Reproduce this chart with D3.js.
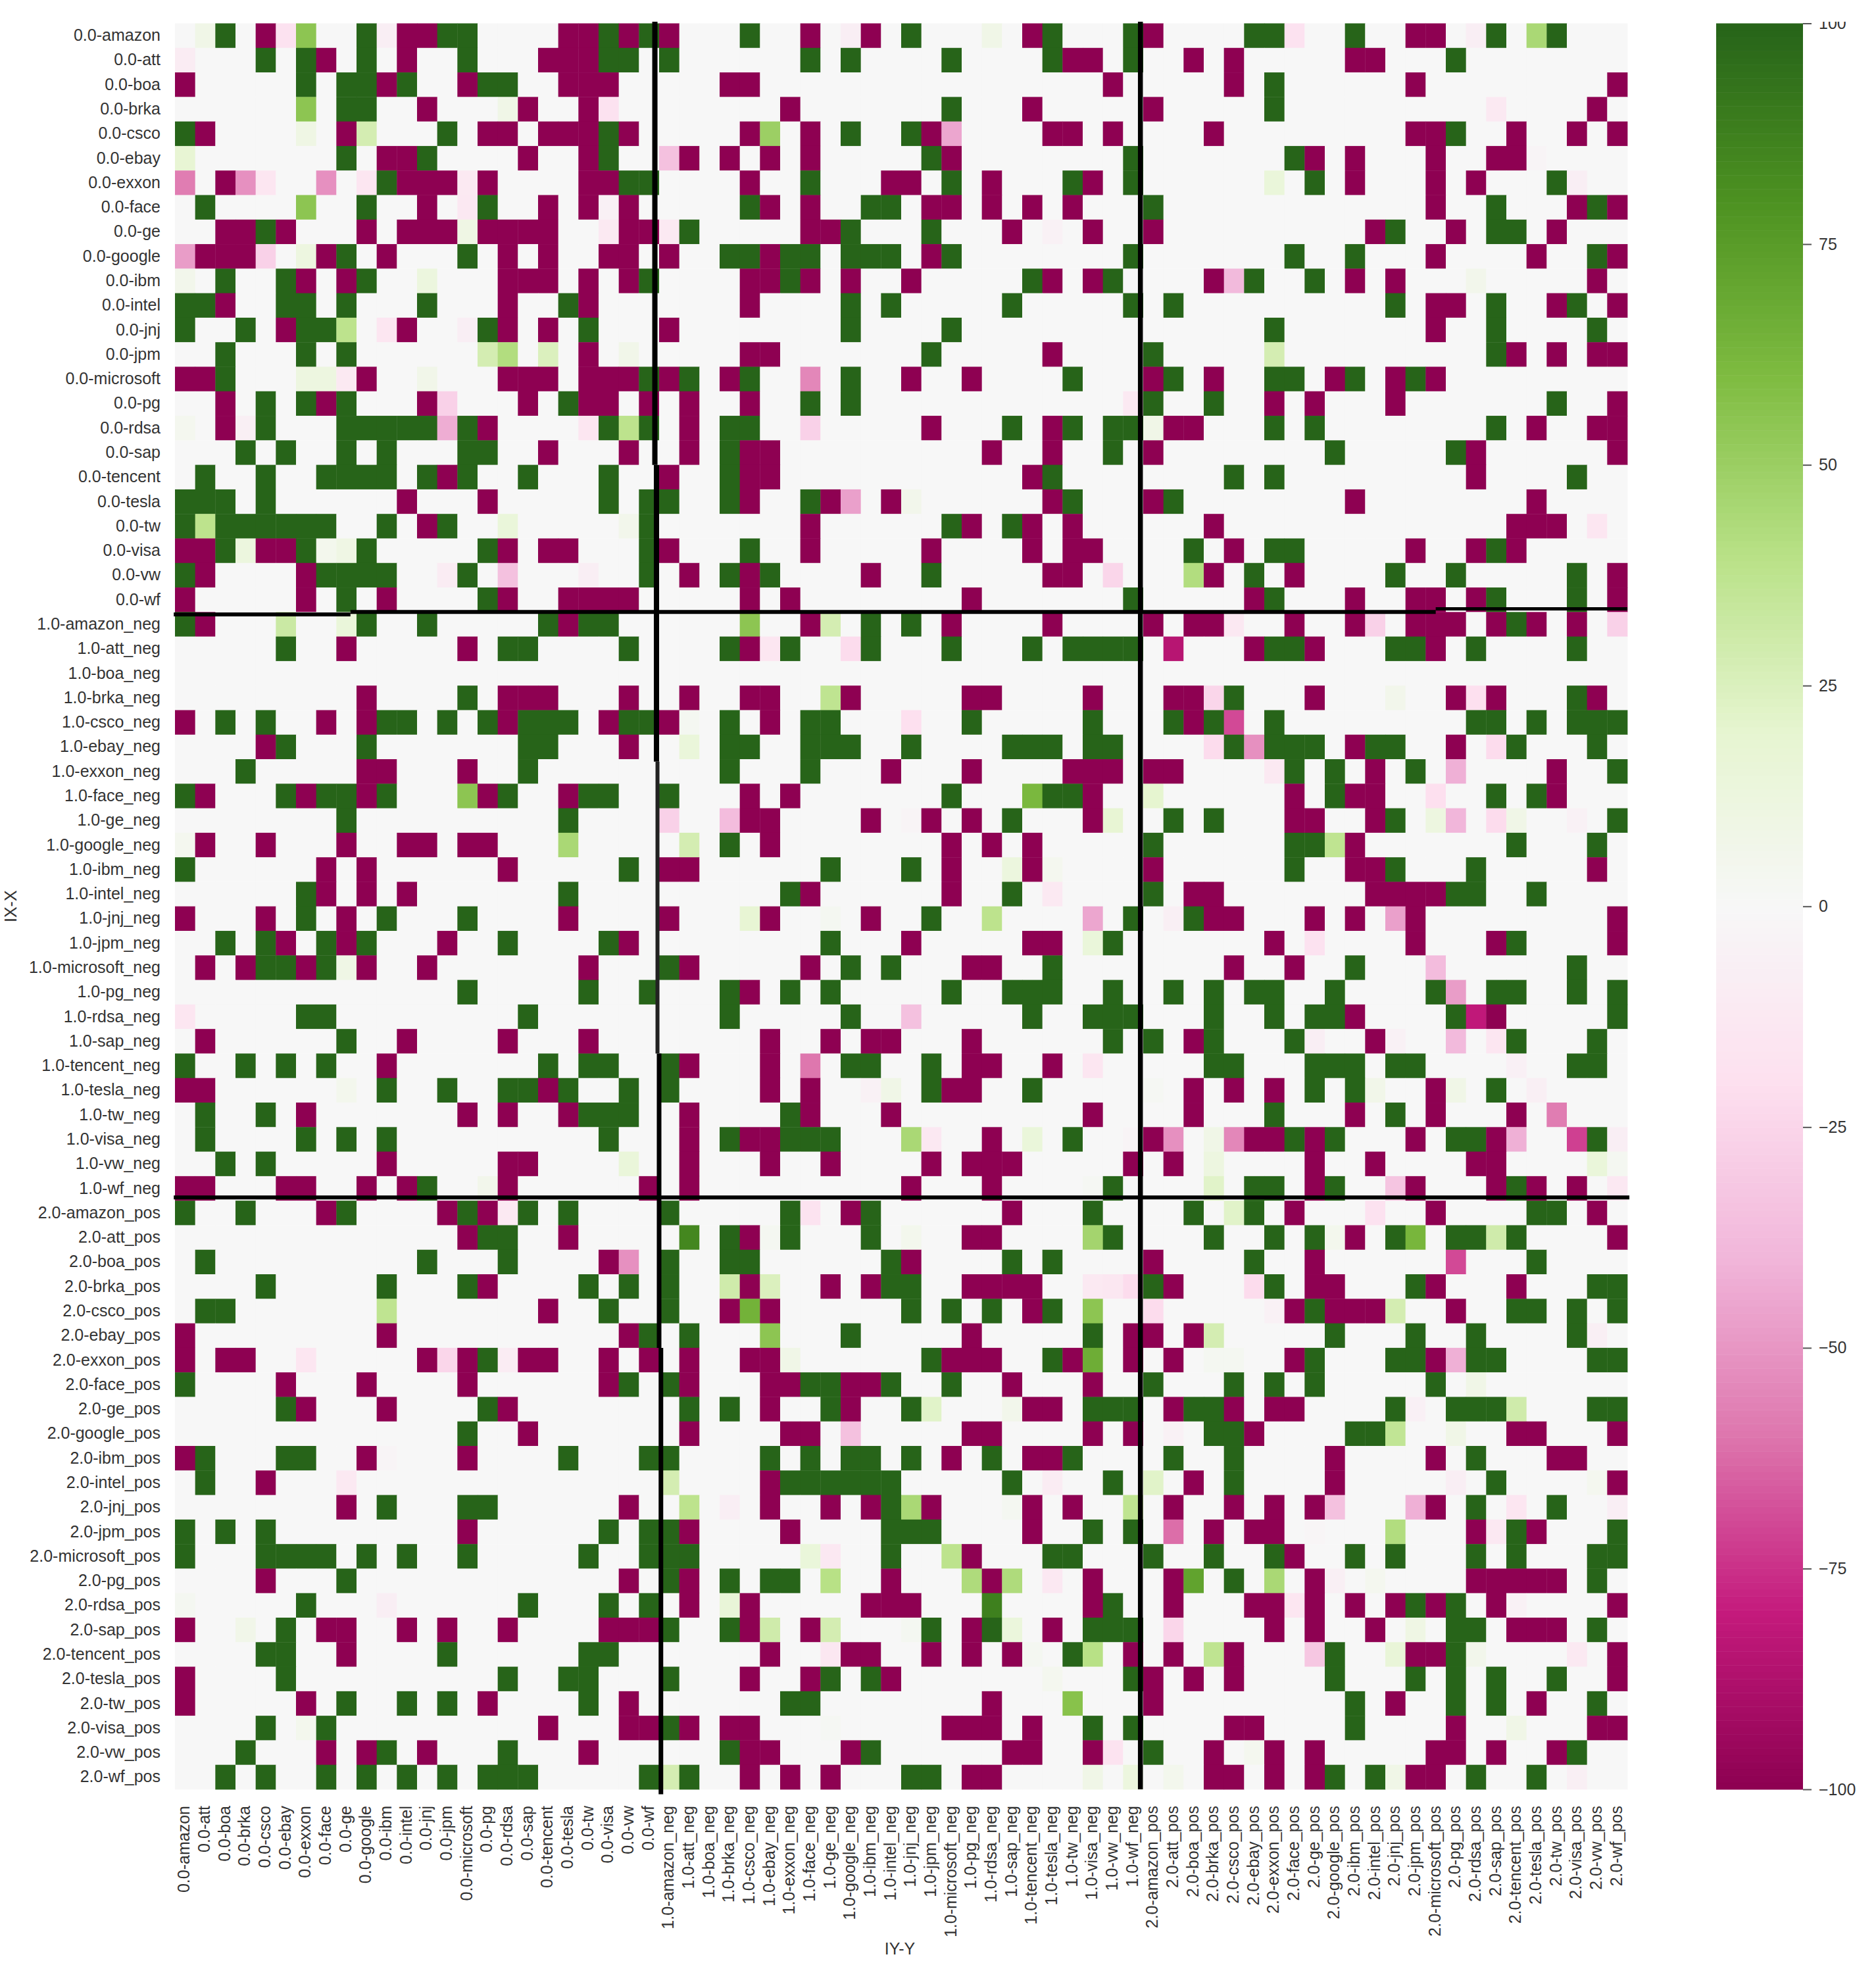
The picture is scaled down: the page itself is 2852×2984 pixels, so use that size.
<!DOCTYPE html>
<html>
<head>
<meta charset="utf-8">
<script src="https://cdn.jsdelivr.net/npm/d3@7"></script>
<style>
html,body{margin:0;padding:0;background:#fff;}
svg{display:block;}
text{font-family:"Liberation Sans",Arial,sans-serif;fill:#333;}
</style>
</head>
<body>
<svg id="chart" width="2852" height="2984"></svg>
<script>
const tickers = ["amazon","att","boa","brka","csco","ebay","exxon","face","ge","google","ibm","intel","jnj","jpm","microsoft","pg","rdsa","sap","tencent","tesla","tw","visa","vw","wf"];
const labels = [
  ...tickers.map(t => `0.0-${t}`),
  ...tickers.map(t => `1.0-${t}_neg`),
  ...tickers.map(t => `2.0-${t}_pos`)
];
const colorbarTicks = [-100,-75,-50,-25,0,25,50,75,100];

// columns holding +100, one list per row
const fullPositive = [
[2,9,13,14,21,23,28,36,43,47,53,54,58,65,68],
[4,6,9,14,21,22,24,31,33,38,43,47,63],
[6,8,9,11,15,16,54],
[8,9,38,54],
[0,13,21,33,36,63],
[8,12,21,37,47,55],
[10,22,23,31,38,44,47,56,68],
[1,9,15,28,34,35,48,65,70],
[4,25,33,37,60,65,66],
[8,14,27,28,30,31,33,34,35,38,47,55,58,70],
[2,5,9,23,30,42,46,53,56],
[0,1,5,6,8,12,19,33,35,41,47,49,60,65,69],
[0,3,6,7,15,20,33,38,54,65,70],
[2,6,8,37,48,65],
[2,23,25,28,33,44,49,54,55,58,61],
[4,6,8,19,31,33,48,51,68],
[4,8,9,10,11,12,14,21,23,27,28,41,44,46,47,54,56,65],
[3,5,8,10,14,15,27,46,57,63],
[1,4,7,8,9,10,12,14,17,21,27,43,52,54,69],
[0,1,2,4,21,23,24,27,31,44,49],
[0,2,3,4,5,6,7,10,13,23,38,41],
[2,6,9,15,23,28,50,54,55,65],
[0,7,8,9,10,14,23,27,29,37,53,60,63,69],
[8,15,47,54,65,69],
[0,9,12,18,20,21,34,36,66],
[5,16,17,22,27,30,34,38,42,44,45,46,47,54,55,60,61,64,69],
[],
[14,52,69],
[2,4,10,11,13,15,17,18,19,22,23,27,31,32,39,45,49,51,54,64,65,67,69,70,71],
[5,9,17,18,27,28,31,32,33,36,41,42,43,45,46,52,54,55,56,59,60,66,70],
[3,17,27,31,55,57,61,71],
[0,5,7,8,10,16,20,21,24,38,43,44,57,65,67],
[8,19,41,49,51,60,71],
[27,48,55,56,66,70],
[0,22,32,36,55,60,64],
[6,19,30,41,48,63,64,67],
[6,10,14,37,47,50],
[2,4,7,9,16,21,32,46,66],
[4,5,7,24,33,35,43,58,69],
[14,20,23,27,30,32,38,41,42,43,46,49,51,53,54,57,62,65,66,69,71],
[6,7,17,27,33,42,45,46,47,51,54,56,57,63,71],
[8,46,48,51,55,66,70],
[0,3,5,7,18,20,21,24,33,34,37,51,52,56,57,58,60,61,69,70],
[10,13,16,17,19,22,24,37,42,56,58,65],
[1,4,20,21,22,30,54,60],
[1,6,8,10,21,27,30,31,32,44,55,57,63,64,70],
[2,4],
[12,46,53,54,57,66],
[0,3,8,14,17,19,24,30,34,45,50,53,67,68],
[15,16,27,30,34,46,51,54,56,60,63,64,66],
[1,12,16,24,27,28,35,41,43,53,67],
[4,10,14,20,22,24,35,36,48,54,61,70,71],
[1,2,21,24,36,38,40,43,56,66,67,69,71],
[23,25,33,45,57,61,64,69],
[15,37,43,56,60,61,64,65,70,71],
[0,22,24,31,32,35,38,48,52,54,56,62],
[5,15,25,27,32,36,45,46,47,50,51,60,63,64,65,70,71],
[14,51,52,58,59],
[1,5,6,19,23,24,29,31,33,34,36,40,44,49,52,64],
[1,30,31,32,33,34,35,41,46,52,65],
[10,14,15,35,64,68],
[0,2,4,21,23,24,35,36,37,45,47,66,71],
[0,4,5,6,7,9,11,14,20,23,24,25,35,43,44,48,51,54,58,60,64,66,70,71],
[8,24,27,29,30,52,70],
[6,17,21,23,46,61,63],
[5,24,27,37,40,45,46,47,63,64,70],
[4,5,13,20,21,44,57,63],
[5,16,19,20,24,32,34,47,57,61,63,65,68],
[8,11,13,20,30,31,58,63,65,70],
[4,7,24,45,47,58],
[3,10,16,27,34,48,69],
[2,4,7,9,11,13,15,16,17,23,25,36,37,57,59,64,67]
];

// columns holding -100, one list per row
const fullNegative = [
[4,11,12,19,20,22,24,31,34,42,48,61,62],
[7,11,18,19,20,44,45,50,52,58,59],
[0,10,14,19,20,21,27,28,46,52,61,71],
[12,17,20,30,42,48,70],
[1,8,15,16,18,19,20,22,28,31,37,43,44,46,51,61,62,66,69,71],
[10,11,17,20,25,27,29,31,38,56,58,62,65,66],
[2,11,12,13,15,20,21,28,35,36,40,45,58,62,64],
[12,18,20,22,29,31,37,38,40,42,44,62,69,71],
[2,3,5,9,11,12,13,15,16,17,18,22,23,31,32,41,45,48,59,63,68],
[1,2,3,7,10,16,18,21,22,24,29,37,62,67,71],
[6,8,16,17,18,20,22,28,29,31,33,36,43,45,51,58,60,70],
[2,16,20,28,62,63,68,71],
[5,11,16,18,24,62],
[20,28,29,43,66,68,70,71],
[0,1,9,16,17,18,20,21,22,24,27,36,39,48,51,57,60,62],
[2,7,12,17,20,21,23,25,28,54,56,60,71],
[2,15,25,37,43,49,50,67,70,71],
[18,22,25,28,29,40,43,48,64,71],
[13,24,28,29,42,64],
[11,15,28,32,35,43,48,58,67],
[12,31,39,42,44,51,66,67,68],
[0,1,4,5,16,18,19,24,31,37,42,44,45,52,61,64,66],
[1,6,25,28,34,43,44,51,55,71],
[0,6,10,16,19,20,21,22,28,30,39,53,58,61,62,64,71],
[1,19,31,38,43,48,50,51,55,58,61,62,63,65,67,69],
[8,14,28,53,56,62],
[],
[9,16,17,18,22,25,28,29,33,39,40,45,49,50,56,63,65,70],
[0,7,9,16,21,24,29,50],
[4,22,58,63],
[9,10,14,35,39,44,45,46,48,49,59,68],
[1,6,9,15,19,28,30,45,55,58,59,68],
[28,29,34,37,39,45,55,56,59],
[1,4,8,11,12,14,15,29,38,40,42,58],
[7,9,16,24,25,38,42,48,58,59,70],
[7,9,11,31,38,50,51,59,60,61,62],
[0,4,8,19,24,29,34,51,52,56,58,61,71],
[5,8,13,22,36,42,43,54,61,65,71],
[1,3,6,9,12,20,25,31,39,40,52,55],
[28],
[58,65],
[1,11,16,20,29,32,34,35,39,50,59],
[10,25,29,39,40,43],
[0,1,18,29,31,38,39,50,52,54,62],
[6,14,16,19,25,31,35,45,50,58,62,66],
[25,28,29,40,48,53,54,56,61,65],
[10,16,17,25,29,32,37,39,40,41,47,49,56,59,64,65],
[0,1,5,6,9,11,16,23,25,36,40,56,61,65,67,69],
[7,13,15,33,41,55,62,70],
[14,19,28,39,40,58,71],
[21,36,48,56],
[15,28,32,34,39,40,41,42,49,56,57,62,66],
[18,27,29,42,55,57,58,59,63],
[0,10,22,39,47,48,50],
[0,2,3,12,14,17,18,21,23,25,28,29,38,39,40,44,47,49,55,62],
[5,9,14,21,25,29,30,33,34,41,45],
[6,10,16,29,33,42,43,49,52,54,55],
[17,25,30,31,39,40,45,47,53,66,67,71],
[0,9,14,38,42,43,57,62,68,69],
[4,29,50,57,71],
[8,22,29,32,34,37,42,44,49,52,54,56,62],
[14,25,30,42,51,53,54,64,67],
[39,55],
[4,22,25,35,40,45,49,56,64,65,66,67,68],
[25,28,34,35,36,45,49,53,54,56,58,60,62,65,71],
[0,7,8,11,13,16,21,22,23,28,31,39,43,54,56,59,66,67,68],
[8,29,33,34,37,39,41,47,49,52,61,62,71],
[0,28,31,35,48,50,52,71],
[0,6,15,22,40,48,60,67],
[18,22,23,25,27,28,38,39,40,42,52,53,63,70,71],
[7,9,12,20,28,29,33,41,42,45,51,54,56,62,63,65,68],
[28,30,32,39,40,51,52,54,56,61,62]
];

// in-between values: [column, value], one list per row
const partialValues = [
[[1,8],[5,-18],[6,55],[10,-8],[33,-8],[40,8],[55,-18],[64,-8],[67,45]],
[[0,-10]],
[],
[[6,55],[16,8],[21,-18],[65,-12]],
[[6,10],[9,28],[29,50],[38,-45]],
[[0,18],[24,-35],[67,-3]],
[[0,-58],[3,-52],[4,-15],[7,-52],[9,-15],[14,-12],[54,15],[69,-8]],
[[6,55],[14,-13],[21,-6]],
[[14,10],[21,-12],[24,-12],[43,-5]],
[[0,-48],[4,-27],[6,12]],
[[0,6],[12,13],[52,-38],[64,6]],
[],
[[8,38],[10,-15],[14,-8]],
[[15,28],[16,42],[18,25],[22,7],[54,28]],
[[6,12],[7,12],[8,-12],[12,7],[31,-55]],
[[13,-27],[47,-12]],
[[0,4],[3,-7],[13,-43],[20,-15],[22,38],[31,-27],[48,8]],
[],
[],
[[33,-47],[36,6]],
[[1,38],[16,15],[22,6],[70,-15]],
[[3,13],[7,5],[8,10]],
[[13,-10],[16,-35],[20,-8],[46,-25],[50,42]],
[],
[[5,32],[8,15],[28,55],[32,28],[52,-13],[59,-27],[71,-27]],
[[29,-15],[33,-22],[49,-85]],
[],
[[32,37],[51,-25],[60,6],[64,-20]],
[[25,3],[36,-20],[52,-70]],
[[25,15],[51,-22],[53,-52],[65,-22]],
[[54,-12],[63,-42]],
[[14,55],[42,62],[48,20],[62,-20]],
[[24,-27],[27,-37],[36,-3],[46,18],[62,12],[63,-40],[65,-22],[66,8],[69,-5]],
[[0,4],[19,45],[25,28],[57,37]],
[[41,13],[43,4]],
[[43,-12]],
[[28,18],[32,3],[40,38],[45,-45],[49,-7],[60,-47]],
[[45,15],[56,-18]],
[[8,9],[62,-37]],
[[63,-48]],
[[0,-15],[36,-35],[64,-82]],
[[56,-8],[60,-5],[63,-38],[65,-15]],
[[31,-60],[45,-15],[66,-6]],
[[8,5],[34,-5],[35,8],[48,2],[59,7],[63,8],[67,-7]],
[[68,-58]],
[[36,45],[37,-13],[42,15],[47,-3],[49,-52],[51,8],[52,-55],[66,-42],[69,-72],[71,-8]],
[[22,15],[51,12],[70,15],[71,3]],
[[15,6],[45,2],[51,22],[60,-33],[71,-13]],
[[16,-12],[31,-17],[52,22],[59,-18]],
[[25,85],[29,3],[36,5],[45,47],[57,5],[61,63],[65,30]],
[[22,-52],[63,-70]],
[[27,30],[29,25],[45,-12],[46,-14],[47,-22],[53,-22]],
[[10,37],[28,65],[45,55],[48,-22],[54,-5],[60,28]],
[[29,55],[51,28],[70,-7]],
[[6,-15],[13,-25],[16,-10],[30,8],[45,67],[51,3],[52,3],[63,-42]],
[[64,8]],
[[37,22],[41,6],[61,-6],[66,30]],
[[33,-35],[49,-5],[60,36],[63,8]],
[[10,-3]],
[[8,-12],[24,28],[43,-10],[48,22],[63,-8],[70,4]],
[[25,38],[27,-8],[36,45],[41,3],[47,37],[57,-35],[61,-42],[66,-15],[71,-8]],
[[49,-62],[56,-2],[60,42],[65,-13]],
[[31,15],[32,-13],[38,38]],
[[32,40],[39,43],[41,43],[43,-13],[50,72],[54,45],[57,-7],[59,4]],
[[0,3],[10,-8],[27,16],[40,88],[55,-15],[66,-5]],
[[3,7],[29,30],[32,28],[36,3],[41,14],[49,-25],[61,10]],
[[32,-14],[42,3],[45,40],[51,37],[56,-32],[60,16],[64,6],[69,-12]],
[[43,4]],
[[44,57]],
[[6,5],[32,2],[66,8]],
[[46,-17],[53,4]],
[[24,28],[45,8],[47,13],[49,5],[60,8],[69,-7]]
];

// hand-drawn separators: [col0,row0,col1,row1,width,colour], in grid units
const separators = [
[23.79,-0.07,23.79,18.0,8,"#000"],
[23.87,18.0,23.87,30.1,8,"#000"],
[23.92,30.1,23.92,42.0,6,"#222"],
[24.0,42.0,24.0,54.0,7,"#000"],
[24.09,54.0,24.09,72.2,7,"#000"],
[47.86,-0.07,47.86,72.0,7.5,"#000"],
[-0.06,24.1,8.7,24.1,6,"#000"],
[8.7,24.0,62.5,24.0,6,"#000"],
[62.5,23.87,72.0,23.87,5,"#000"],
[-0.06,47.87,72.1,47.87,6,"#000"]
];

const pageW = 2852;
const plotLeft = 266, plotRight = 2474, plotTop = 35.5, plotBottom = 2720;
const svg = d3.select("#chart");

const x = d3.scaleBand().domain(labels).range([plotLeft,plotRight]).padding(0);
const y = d3.scaleBand().domain(labels).range([plotTop,plotBottom]).padding(0);
const gridX = d3.scaleLinear().domain([0,labels.length]).range([plotLeft,plotRight]);
const gridY = d3.scaleLinear().domain([0,labels.length]).range([plotTop,plotBottom]);
const color = d3.scaleLinear()
  .domain([-100,-80,-60,-40,-20,0,20,40,60,80,100])
  .range(["#8e0152","#c51b7d","#de77ae","#f1b6da","#fde0ef","#f7f7f7","#e6f5d0","#b8e186","#7fbc41","#4d9221","#276419"]);

const cells = [];
labels.forEach((rowLabel,r) => {
  const values = new Map();
  fullPositive[r].forEach(c => values.set(c,100));
  fullNegative[r].forEach(c => values.set(c,-100));
  partialValues[r].forEach(([c,v]) => values.set(c,v));
  labels.forEach((colLabel,c) => cells.push({rowLabel,colLabel,value:values.get(c) ?? 0}));
});

svg.append("g").selectAll("rect").data(cells).join("rect")
  .attr("x",d => x(d.colLabel))
  .attr("y",d => y(d.rowLabel))
  .attr("width",x.bandwidth()+0.4)
  .attr("height",y.bandwidth()+0.4)
  .attr("fill",d => color(d.value));

const axisFont = 25;
const yAxis = svg.append("g").attr("transform",`translate(${plotLeft},0)`)
  .call(d3.axisLeft(y).tickSize(0).tickPadding(22));
yAxis.select(".domain").remove();
yAxis.selectAll("text").attr("font-size",axisFont).attr("font-family",null);

const xAxis = svg.append("g").attr("transform",`translate(0,${plotBottom})`)
  .call(d3.axisBottom(x).tickSize(0));
xAxis.select(".domain").remove();
xAxis.selectAll("text")
  .attr("font-size",axisFont).attr("font-family",null)
  .attr("text-anchor","end")
  .attr("dy",null).attr("y",0).attr("x",0)
  .attr("dominant-baseline","central")
  .attr("transform","translate(-2,25) rotate(-90)");

svg.append("text").attr("font-size",axisFont).attr("text-anchor","middle")
  .attr("transform",`translate(25,${(plotTop+plotBottom)/2}) rotate(-90)`).text("IX-X");
svg.append("text").attr("font-size",axisFont).attr("text-anchor","middle")
  .attr("x",(plotLeft+plotRight)/2-2).attr("y",2971).text("IY-Y");

svg.append("g").selectAll("line").data(separators).join("line")
  .attr("x1",d => gridX(d[0])).attr("y1",d => gridY(d[1]))
  .attr("x2",d => gridX(d[2])).attr("y2",d => gridY(d[3]))
  .attr("stroke-width",d => d[4]).attr("stroke",d => d[5]);

// colour bar
const barX = 2609, barW = 132;
const barScale = d3.scaleLinear().domain([-100,100]).range([plotBottom,plotTop]);
const barSteps = d3.range(256).map(i => -100 + 200*i/255);
const stepH = (plotBottom-plotTop)/256;
svg.append("g").selectAll("rect").data(barSteps).join("rect")
  .attr("x",barX).attr("width",barW)
  .attr("y",(d,i) => plotBottom-(i+1)*stepH)
  .attr("height",stepH+0.5)
  .attr("fill",d => color(d));
const barAxis = svg.append("g").attr("transform",`translate(${barX+barW},0)`)
  .call(d3.axisRight(barScale).tickValues(colorbarTicks).tickSize(13).tickPadding(11));
barAxis.select(".domain").remove();
barAxis.selectAll("line").attr("stroke","#555").attr("stroke-width",2);
barAxis.selectAll("text").attr("font-size",axisFont).attr("font-family",null);

// the top edge of the reference is cut off just above the plot
svg.append("rect").attr("x",0).attr("y",0).attr("width",pageW).attr("height",33).attr("fill","#fff");
</script>
</body>
</html>
